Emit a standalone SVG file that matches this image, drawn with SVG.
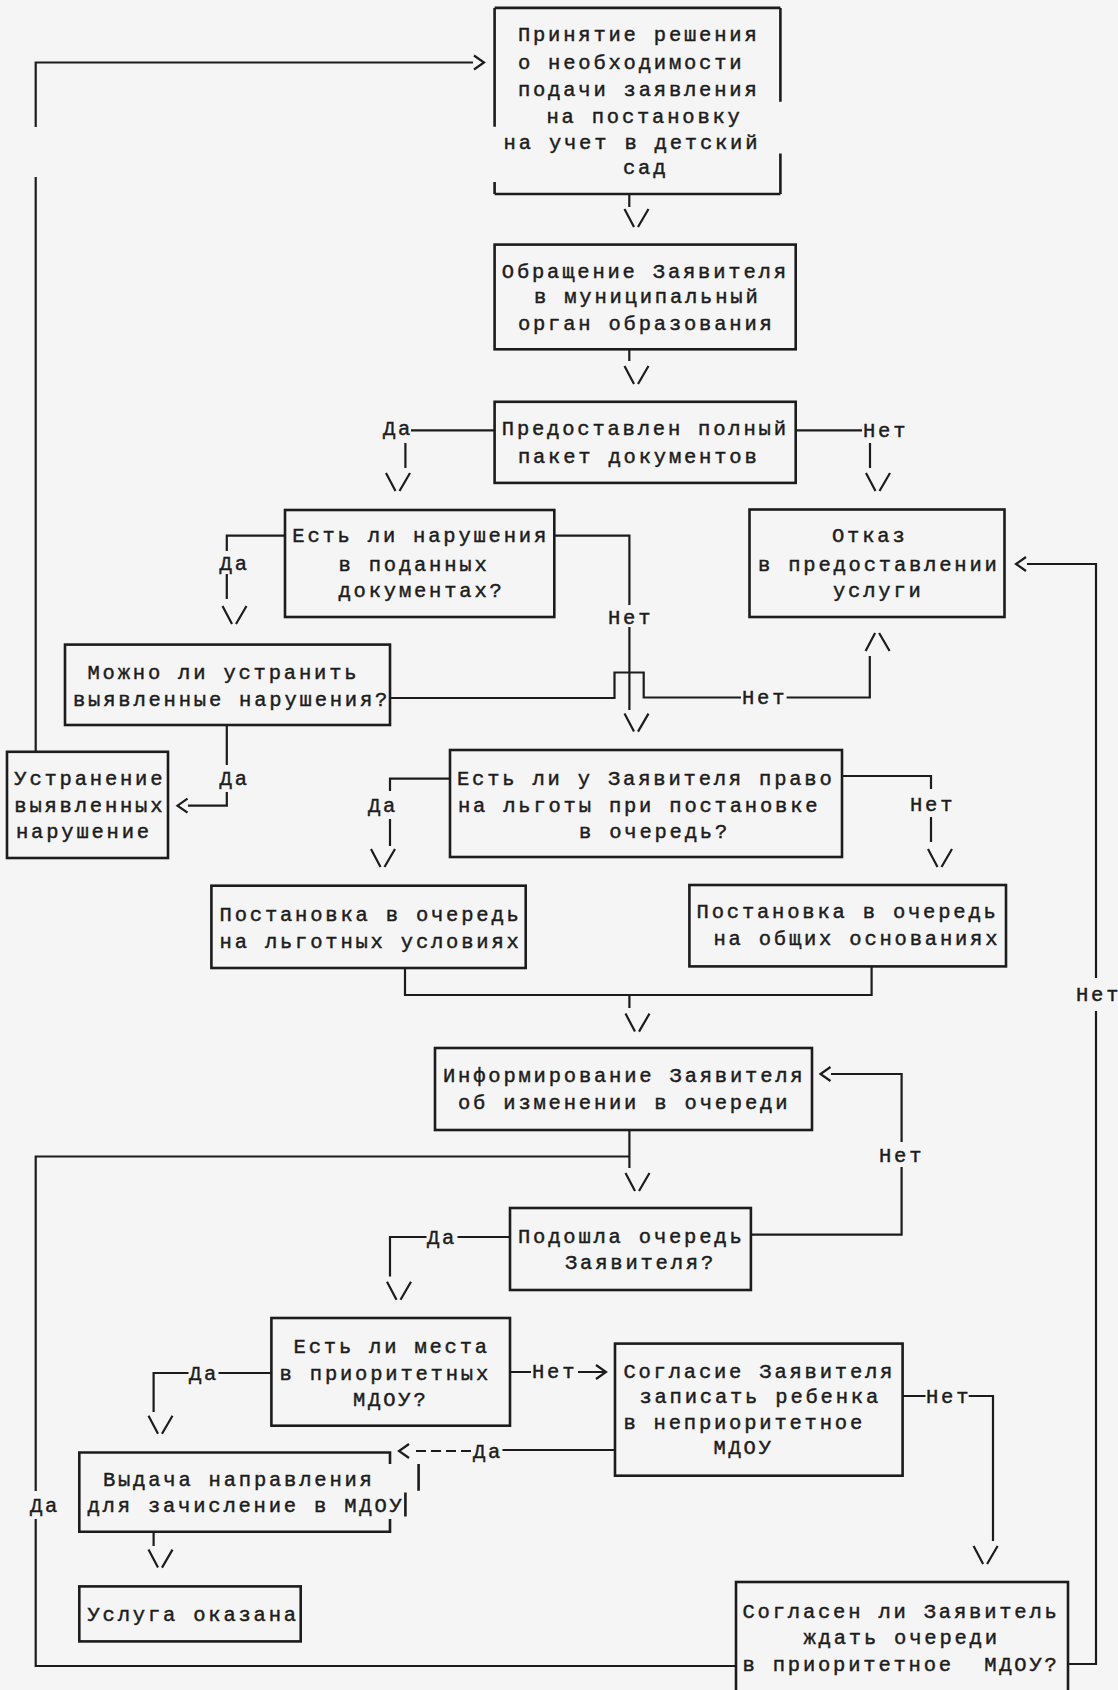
<svg xmlns="http://www.w3.org/2000/svg" width="1118" height="1690" viewBox="0 0 1118 1690">
<style>
.box{fill:none;stroke:#1c1c1c;stroke-width:2.6}
.ln{fill:none;stroke:#1c1c1c;stroke-width:2.2}
.dash{fill:none;stroke:#1c1c1c;stroke-width:2.2;stroke-dasharray:10 5}
.t{font-family:"Liberation Mono","DejaVu Sans Mono",monospace;font-size:20.5px;letter-spacing:2.8px;fill:#1c1c1c;stroke:#1c1c1c;stroke-width:0.45}
</style>
<defs>
<path id="dn" class="ln" d="M-12,0 L-2.5,18 M1.5,18 L12,0"/>
<path id="up" class="ln" d="M-12,18 L-2.5,0 M1.5,0 L12,18"/>
<path id="lt" class="ln" d="M10,-7 L0,0 L10,7"/>
<path id="rt" class="ln" d="M-10,-7 L0,0 L-10,7"/>
</defs>
<rect x="0" y="0" width="1118" height="1690" fill="#f5f5f5"/>

<g id="connectors">
<path class="ln" d="M35.7,751.8 V177 M35.7,127 V62.5 H473"/>
<use href="#rt" x="484" y="62.5"/>
<path class="ln" d="M629.3,194 V207"/>
<use href="#dn" x="636.5" y="209"/>
<path class="ln" d="M629.3,349.3 V361"/>
<use href="#dn" x="636.5" y="366"/>
<path class="ln" d="M494.6,430.4 H411 M405.4,443 V468"/>
<text class="t" x="383" y="435">Да</text>
<use href="#dn" x="398" y="473"/>
<path class="ln" d="M795.7,430.4 H862 M870,443 V468"/>
<text class="t" x="863" y="436.5">Нет</text>
<use href="#dn" x="878" y="473"/>
<path class="ln" d="M285,535.7 H226.8 V551 M226.8,574 V599"/>
<text class="t" x="219.6" y="569.5">Да</text>
<use href="#dn" x="234.5" y="606"/>
<path class="ln" d="M554.3,535.7 H629.4 V605 M629.4,627 V710"/>
<text class="t" x="608" y="623.5">Нет</text>
<use href="#dn" x="636.5" y="713.6"/>
<path class="ln" d="M390,698 H614.5 V672.5 H643.7 V697.5 H741 M786.6,697.5 H869.8 V656"/>
<text class="t" x="742" y="704">Нет</text>
<use href="#up" x="877.6" y="633"/>
<path class="ln" d="M226.8,725 V765 M226.8,792 V805.7 H188"/>
<text class="t" x="219.6" y="785">Да</text>
<use href="#lt" x="177.5" y="805.7"/>
<path class="ln" d="M450,778.6 H390 V791 M390,819 V846"/>
<text class="t" x="368" y="812">Да</text>
<use href="#dn" x="383" y="849"/>
<path class="ln" d="M842,776 H931 V789 M931,817 V842"/>
<text class="t" x="910" y="811">Нет</text>
<use href="#dn" x="940" y="849"/>
<path class="ln" d="M405,968 V995 H871.6 V966.4 M629.4,995 V1008"/>
<use href="#dn" x="637.5" y="1013.6"/>
<path class="ln" d="M750.9,1234.6 H901.6 V1167 M901.6,1142 V1074 H831"/>
<text class="t" x="879" y="1161.5">Нет</text>
<use href="#lt" x="820.5" y="1074"/>
<path class="ln" d="M629.4,1130 V1168 M629.4,1156.5 H35.7 V1491 M35.7,1519 V1666 H736"/>
<text class="t" x="30" y="1511.5">Да</text>
<use href="#dn" x="637.5" y="1173"/>
<path class="ln" d="M510,1237 H457.5 M426.5,1237 H390 V1276.4"/>
<text class="t" x="427" y="1243.5">Да</text>
<use href="#dn" x="399" y="1281.8"/>
<path class="ln" d="M271.4,1373 H218.5 M188.5,1373 H153.6 V1412"/>
<text class="t" x="189" y="1379.5">Да</text>
<use href="#dn" x="160.5" y="1415.7"/>
<path class="ln" d="M510,1372 H531 M578,1372 H604"/>
<text class="t" x="532" y="1378">Нет</text>
<use href="#rt" x="606" y="1372"/>
<path class="ln" d="M615,1450 H502.5"/>
<path class="dash" d="M471,1451 H414"/>
<text class="t" x="473" y="1457.5">Да</text>
<use href="#lt" x="399" y="1451"/>
<path class="ln" d="M902.6,1396 H925.5 M968.7,1396 H993 V1541"/>
<text class="t" x="926" y="1402.5">Нет</text>
<use href="#dn" x="985.6" y="1546"/>
<path class="ln" d="M1068,1664 H1096 V1011 M1096,978 V564 H1027"/>
<text class="t" x="1076" y="1000.5">Нет</text>
<use href="#lt" x="1016" y="564"/>
<path class="ln" d="M153.6,1532 V1546"/>
<use href="#dn" x="160.5" y="1549.6"/>
</g>

<g id="n1">
<path class="box" d="M494.6,7.9 H780.4 M780.4,7.9 V101.8 M780.4,153.6 V194 M494.6,194 H780.4 M494.6,7.9 V126.8 M494.6,182 V194"/>
<text class="t" x="517.9" y="41">Принятие решения</text>
<text class="t" x="517.9" y="69">о необходимости</text>
<text class="t" x="517.9" y="95.8">подачи заявления</text>
<text class="t" x="546.4" y="122.5">на постановку</text>
<text class="t" x="503.6" y="149.4">на учет в детский</text>
<text class="t" x="623" y="174.4">сад</text>
</g>
<g id="n2">
<rect class="box" x="494.6" y="244.6" width="301.1" height="104.7"/>
<text class="t" x="501.8" y="277.9">Обращение Заявителя</text>
<text class="t" x="534" y="302.9">в муниципальный</text>
<text class="t" x="517.9" y="329.7">орган образования</text>
</g>
<g id="n3">
<rect class="box" x="494.6" y="401.8" width="301.1" height="81.1"/>
<text class="t" x="501.8" y="435.1">Предоставлен полный</text>
<text class="t" x="517.9" y="462.9">пакет документов</text>
</g>
<g id="n4">
<rect class="box" x="285" y="510" width="269.3" height="107"/>
<text class="t" x="292.3" y="542.2">Есть ли нарушения</text>
<text class="t" x="338.5" y="570.5">в поданных</text>
<text class="t" x="338.5" y="596.9">документах?</text>
</g>
<g id="n5">
<rect class="box" x="749.5" y="509.5" width="255" height="107.5"/>
<text class="t" x="832" y="542.2">Отказ</text>
<text class="t" x="758" y="570.5">в предоставлении</text>
<text class="t" x="833" y="596.5">услуги</text>
</g>
<g id="n6">
<rect class="box" x="65" y="644.6" width="325" height="80.4"/>
<text class="t" x="87.5" y="679">Можно ли устранить</text>
<text class="t" x="73" y="705.8">выявленные нарушения?</text>
</g>
<g id="n7">
<rect class="box" x="7" y="751.8" width="161" height="106.2"/>
<text class="t" x="14.3" y="784.5">Устранение</text>
<text class="t" x="14.3" y="812.2">выявленных</text>
<text class="t" x="16" y="837.9">нарушение</text>
</g>
<g id="n8">
<rect class="box" x="450" y="750" width="392" height="107"/>
<text class="t" x="457" y="784.5">Есть ли у Заявителя право</text>
<text class="t" x="457.9" y="811.5">на льготы при постановке</text>
<text class="t" x="579" y="837.9">в очередь?</text>
</g>
<g id="n9">
<rect class="box" x="211.4" y="885.7" width="314.3" height="82.3"/>
<text class="t" x="219.6" y="920.5">Постановка в очередь</text>
<text class="t" x="219.6" y="947.9">на льготных условиях</text>
</g>
<g id="n10">
<rect class="box" x="689.4" y="885" width="316.6" height="81.4"/>
<text class="t" x="696.6" y="918.3">Постановка в очередь</text>
<text class="t" x="713.4" y="945.1">на общих основаниях</text>
</g>
<g id="n11">
<rect class="box" x="435" y="1048" width="377" height="82"/>
<text class="t" x="443" y="1081.5">Информирование Заявителя</text>
<text class="t" x="458" y="1109">об изменении в очереди</text>
</g>
<g id="n12">
<rect class="box" x="510" y="1208" width="240.9" height="82"/>
<text class="t" x="518" y="1243.2">Подошла очередь</text>
<text class="t" x="565" y="1269.4">Заявителя?</text>
</g>
<g id="n13">
<rect class="box" x="271.4" y="1318" width="238.6" height="107.7"/>
<text class="t" x="293.6" y="1352.5">Есть ли места</text>
<text class="t" x="279.6" y="1379.5">в приоритетных</text>
<text class="t" x="353" y="1406.1">МДОУ?</text>
</g>
<g id="n14">
<rect class="box" x="615" y="1343.6" width="287.6" height="132.1"/>
<text class="t" x="623.4" y="1377.5">Согласие Заявителя</text>
<text class="t" x="639.4" y="1402.5">записать ребенка</text>
<text class="t" x="623.4" y="1429.4">в неприоритетное</text>
<text class="t" x="713.4" y="1454.4">МДОУ</text>
</g>
<g id="n15">
<path class="box" d="M390,1464 V1452.5 H79.3 V1531.8 H390 V1519 M418.6,1464 V1490.7 M405.4,1492.5 V1516.4"/>
<text class="t" x="102.9" y="1485.5">Выдача направления</text>
<text class="t" x="87.5" y="1511.5">для зачисление в МДОУ</text>
</g>
<g id="n16">
<rect class="box" x="79.3" y="1586.4" width="221.4" height="55"/>
<text class="t" x="87.5" y="1620.5">Услуга оказана</text>
</g>
<g id="n17">
<rect class="box" x="736" y="1582" width="332" height="120"/>
<text class="t" x="742.5" y="1617.5">Согласен ли Заявитель</text>
<text class="t" x="803.5" y="1644">ждать очереди</text>
<text class="t" x="742.5" y="1670.5" xml:space="preserve">в приоритетное  МДОУ?</text>
</g>
</svg>
